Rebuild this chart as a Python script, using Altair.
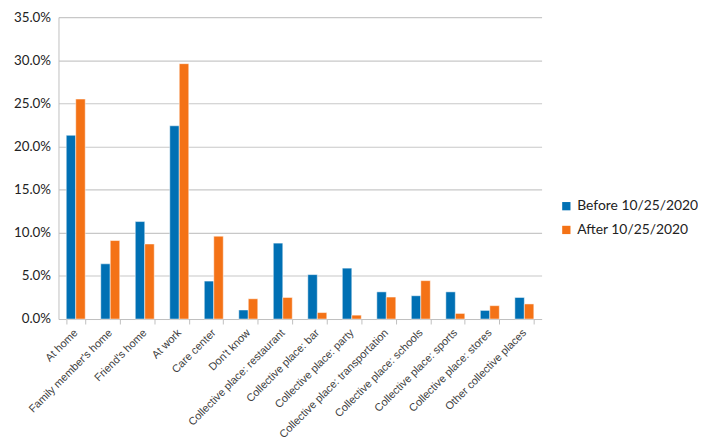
import altair as alt
import pandas as pd

categories = ["At home", "Family member's home", "Friend's home", "At work", "Care center",
              "Don't know", "Collective place: restaurant", "Collective place: bar",
              "Collective place: party", "Collective place: transportation",
              "Collective place: schools", "Collective place: sports",
              "Collective place: stores", "Other collective places"]
series = ["Before 10/25/2020", "After 10/25/2020"]
before = [21.3, 6.4, 11.3, 22.4, 4.4, 1.05, 8.8, 5.15, 5.9, 3.15, 2.7, 3.15, 1.0, 2.5]
after = [25.5, 9.1, 8.7, 29.6, 9.6, 2.35, 2.5, 0.75, 0.45, 2.55, 4.45, 0.65, 1.55, 1.75]

rows = []
for c, b, a in zip(categories, before, after):
    rows.append({"category": c, "series": series[0], "value": b / 100})
    rows.append({"category": c, "series": series[1], "value": a / 100})
df = pd.DataFrame(rows)

colors = ["#0070B4", "#F47216"]

chart = alt.Chart(df).mark_bar(stroke="white", strokeWidth=0.5).encode(
    x=alt.X("category:N", sort=categories,
            scale=alt.Scale(paddingInner=0.45, paddingOuter=0.225),
            axis=alt.Axis(title=None, labelAngle=-45, labelAlign="right", labelBaseline="middle",
                          labelFont="Liberation Sans", labelFontSize=11, labelColor="#404040",
                          tickBand="extent", ticks=True, tickSize=5, tickColor="#BFBFBF",
                          domainColor="#BFBFBF", labelPadding=7, grid=False, labelLimit=300)),
    xOffset=alt.XOffset("series:N", sort=series),
    y=alt.Y("value:Q", scale=alt.Scale(domain=[0, 0.35], nice=False),
            axis=alt.Axis(title=None, format=".1%", values=[0, 0.05, 0.1, 0.15, 0.2, 0.25, 0.3, 0.35],
                          labelFont="Lato", labelFontSize=13.5, labelColor="#222222",
                          ticks=False, labelPadding=8, domain=True, domainColor="#BFBFBF",
                          grid=True, gridColor="#C8C8C8", gridWidth=1.2)),
    color=alt.Color("series:N", sort=series,
                    scale=alt.Scale(domain=series, range=colors),
                    legend=alt.Legend(title=None, orient="none", legendX=506, legendY=184,
                                      symbolType="square", symbolSize=70, symbolStrokeWidth=0,
                                      labelFont="Lato", labelFontSize=14, labelColor="#222222",
                                      rowPadding=10, labelOffset=4)),
).properties(
    width=488, height=305,
    autosize=alt.AutoSizeParams(type="none"),
    padding={"left": 51, "top": 7, "right": 158, "bottom": 120},
).configure_view(stroke=None)

chart.save("out.html", embed_options={"renderer": "svg", "actions": False})
